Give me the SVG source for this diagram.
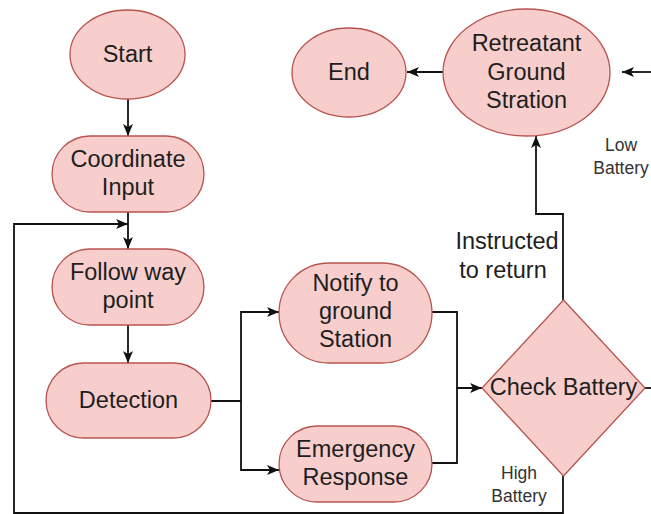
<svg xmlns="http://www.w3.org/2000/svg" width="651" height="514" viewBox="0 0 651 514">
<style>
.n{fill:#f8cecc;stroke:#b85450;stroke-width:1.3}
.t{font-family:"Liberation Sans",Arial,sans-serif;font-size:23.5px;fill:#1e1e1e;text-anchor:middle}
.l{font-family:"Liberation Sans",Arial,sans-serif;font-size:17.5px;fill:#333;text-anchor:middle}
.c{fill:none;stroke:#111;stroke-width:1.8}
</style>
<defs>
<marker id="a" markerUnits="userSpaceOnUse" markerWidth="14" markerHeight="14" viewBox="0 0 14 14" refX="13" refY="7" orient="auto">
<path d="M1,2 L13,7 L1,12 L4,7 Z" fill="#111"/>
</marker>
</defs>
<rect width="651" height="514" fill="#fff"/>
<g id="connectors">
<path class="c" d="M128 99 V136" marker-end="url(#a)"/>
<path class="c" d="M128 212 V249" marker-end="url(#a)"/>
<path class="c" d="M128 325 V363" marker-end="url(#a)"/>
<path class="c" d="M211 401 H241 V312 H279" marker-end="url(#a)"/>
<path class="c" d="M241 401 V470 H279" marker-end="url(#a)"/>
<path class="c" d="M432 312 H457 V388 H482" marker-end="url(#a)"/>
<path class="c" d="M432 463 H457 V388"/>
<path class="c" d="M563 300 V214 H536 V136" marker-end="url(#a)"/>
<path class="c" d="M563 476 V513 H14 V224 H128" marker-end="url(#a)"/>
<path class="c" d="M645 388 H651"/>
<path class="c" d="M651 72 H622" marker-end="url(#a)"/>
<path class="c" d="M443 72 H407" marker-end="url(#a)"/>
</g>
<g id="start"><ellipse class="n" cx="127.5" cy="54.5" rx="57.5" ry="44.5"/><text class="t" x="127.5" y="61.5">Start</text></g>
<g id="coordinate"><rect class="n" x="52" y="136" width="152" height="76" rx="38"/><text class="t" x="128" y="167">Coordinate</text><text class="t" x="128" y="195">Input</text></g>
<g id="follow"><rect class="n" x="52" y="249" width="152" height="76" rx="38"/><text class="t" x="128" y="280">Follow way</text><text class="t" x="128" y="308">point</text></g>
<g id="detection"><rect class="n" x="46" y="363" width="165" height="75" rx="37.5"/><text class="t" x="128.5" y="408">Detection</text></g>
<g id="notify"><rect class="n" x="279" y="263" width="153" height="100" rx="50"/><text class="t" x="355.5" y="291">Notify to</text><text class="t" x="355.5" y="319">ground</text><text class="t" x="355.5" y="347">Station</text></g>
<g id="emergency"><rect class="n" x="279" y="426" width="153" height="76" rx="38"/><text class="t" x="355.5" y="457">Emergency</text><text class="t" x="355.5" y="485">Response</text></g>
<g id="check"><path class="n" d="M563.5 300 L645 388 L563.5 476 L482 388 Z"/><text class="t" x="563.5" y="395">Check Battery</text></g>
<g id="retreat"><ellipse class="n" cx="526.5" cy="72.5" rx="83.5" ry="63.5"/><text class="t" x="526.5" y="51">Retreatant</text><text class="t" x="526.5" y="79.5">Ground</text><text class="t" x="526.5" y="108">Stration</text></g>
<g id="end"><ellipse class="n" cx="349" cy="72.5" rx="57" ry="44.5"/><text class="t" x="349" y="80">End</text></g>
<g id="labels">
<text class="t" x="507" y="249">Instructed</text><text class="t" x="503" y="278">to return</text>
<text class="l" x="621" y="151">Low</text><text class="l" x="621" y="174">Battery</text>
<text class="l" x="519" y="479">High</text><text class="l" x="519" y="502">Battery</text>
</g>
</svg>
